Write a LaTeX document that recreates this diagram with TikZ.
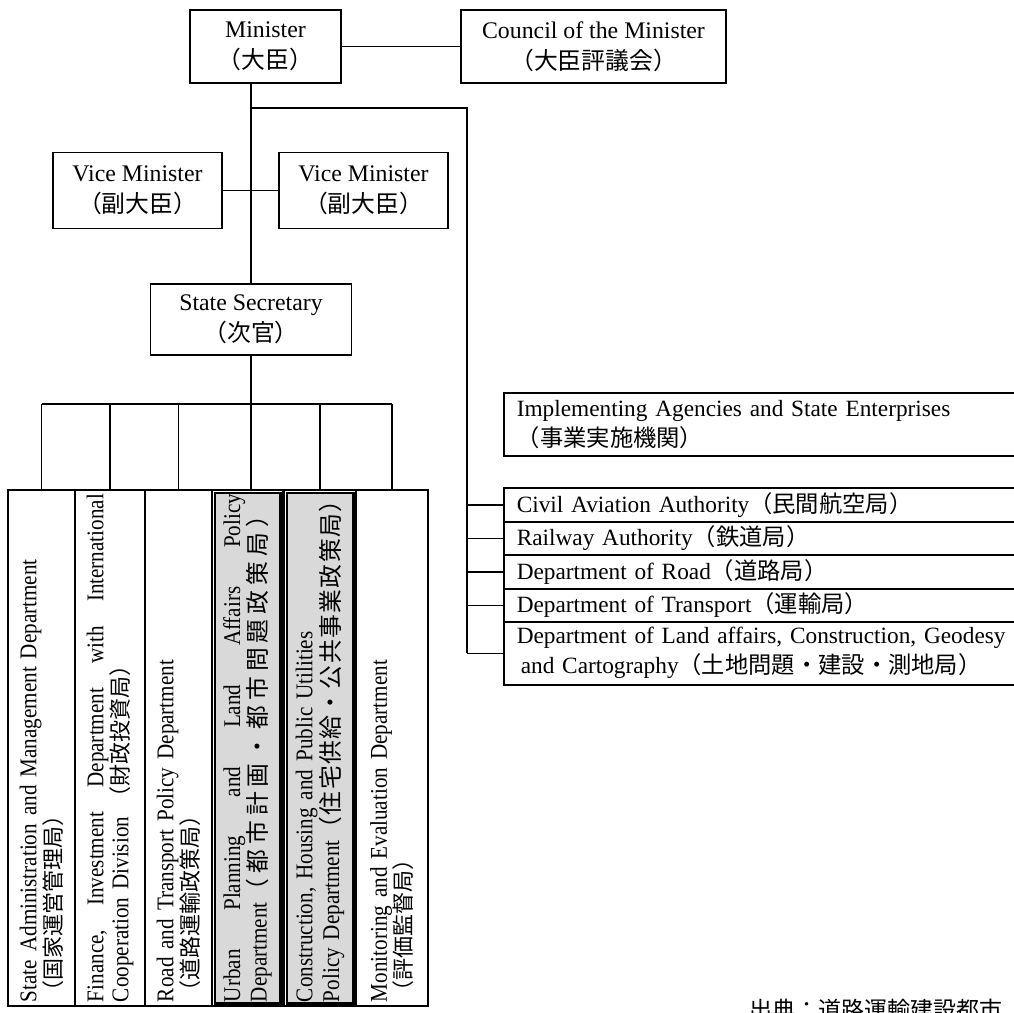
\documentclass[tikz,border=0pt]{standalone}
\usepackage{fontspec}
\setmainfont{Liberation Serif}
\newfontfamily\deptfont[FakeStretch=0.88]{Liberation Serif}
\newfontfamily\jfont{Noto Sans CJK JP}
\newcommand{\ja}[1]{{\jfont #1}}
\newcommand{\jd}[1]{{\fontsize{22}{24}\jfont #1}}
\newcommand{\jw}[2]{{\fontsize{23.8}{24}\jfont\addfontfeature{LetterSpace=#1}#2}}
\newcommand{\spreadline}[1]{\hbox to 508pt{#1}}

\begin{document}
\begin{tikzpicture}[x=1pt,y=-1pt,line width=1.6pt,
  box/.style={draw,inner sep=0pt,align=center,font=\fontsize{23.8}{31}\selectfont},
  listbox/.style={draw,anchor=north west,inner xsep=13pt,inner ysep=0pt,text width=500pt,align=left,font=\fontsize{23.3}{30}\selectfont},
  deptbox/.style={draw,fill=white,inner sep=0pt,minimum height=516pt},
  depttext/.style={rotate=90,inner sep=0pt,text width=508pt,align=left,font=\deptfont\fontsize{24}{25}\selectfont}]
  \path[use as bounding box] (0,0) rectangle (1014,1012);
  \clip (0,0) rectangle (1014,1012);

  % top of the ministry
  \node[box,minimum width=151pt,minimum height=73pt] (min) at (265.5,46.5) {Minister\\\ja{（大臣）}};
  \node[box,minimum width=265pt,minimum height=73pt] (council) at (593.5,46.5) {Council of the Minister\\\ja{（大臣評議会）}};
  \node[box,minimum width=169pt,minimum height=76pt] (vm1) at (137.5,190.5) {Vice Minister\\\ja{（副大臣）}};
  \node[box,minimum width=169pt,minimum height=76pt] (vm2) at (363.5,190.5) {Vice Minister\\\ja{（副大臣）}};
  \node[box,minimum width=201pt,minimum height=71pt] (sec) at (251,319.5) {State Secretary\\\ja{（次官）}};

  % departments
  \foreach \n/\x/\w in {d1/41.5/67,d2/110/70,d3/178.5/67,d4/247.5/71,d5/320/72,d6/392/72}
    \node[deptbox,minimum width=\w pt] (\n) at (\x,748) {};
  \foreach \n in {d4,d5}
    \draw[line width=2.4pt,fill=black!15] ([shift={(3.5,3.5)}]\n.north west) rectangle ([shift={(-3.5,-3.5)}]\n.south east);

  \node[depttext] (t1) at (d1) {State Administration and Management Department\\\jd{（国家運営管理局）}};
  \node[depttext] (t2) at (d2) {\spreadline{Finance,\hfill Investment\hfill Department\hfill with\hfill International}\\Cooperation Division \jd{（財政投資局）}};
  \node[depttext] (t3) at (d3) {Road and Transport Policy Department\\\jd{（道路運輸政策局）}};
  \node[depttext] (t4) at (d4) {\spreadline{Urban\hfill Planning\hfill and\hfill Land\hfill Affairs\hfill Policy}\\\mbox{Department\jw{21}{（都市計画・都市問題政策局）}}};
  \node[depttext] (t5) at (d5) {Construction, Housing and Public Utilities\\\mbox{Policy Department\jw{6}{（住宅供給・公共事業政策局）}}};
  \node[depttext] (t6) at (d6) {Monitoring and Evaluation Department\\\jd{（評価監督局）}};

  % agencies
  \node[listbox,minimum height=63pt] (agency) at (503,392) {Implementing Agencies and State Enterprises\\\ja{（事業実施機関）}};
  \node[listbox,minimum height=34pt] (civil) at (503,487) {Civil Aviation Authority\ja{（民間航空局）}};
  \node[listbox,minimum height=33pt] (rail) at (503,521) {Railway Authority\ja{（鉄道局）}};
  \node[listbox,minimum height=34pt] (road) at (503,554) {Department of Road\ja{（道路局）}};
  \node[listbox,minimum height=33pt] (trans) at (503,588) {Department of Transport\ja{（運輸局）}};
  \node[listbox,minimum height=63pt] (land) at (503,621) {Department of Land affairs, Construction, Geodesy\\\hspace*{4pt}and Cartography\ja{（土地問題・建設・測地局）}};

  \node[anchor=base west,inner sep=0pt,font=\fontsize{23}{24}\selectfont] (src) at (749,1018) {\ja{出典：道路運輸建設都市}};

  % lines
  \coordinate (fork) at (251,108);
  \coordinate (rtop) at (467,108);
  \coordinate (bus) at (0,404);
  \draw (min) -- (council);
  \draw (min.south -| sec) -- (sec);
  \draw (vm1) -- (vm2);
  \draw (fork) -- (rtop) -- (rtop |- land.west);
  \foreach \n in {civil,rail,road,trans,land}
    \draw (rtop |- \n.west) -- (\n.west);
  \draw (d1.north |- bus) -- (d6.north |- bus);
  \draw (sec) -- (sec.south |- d4.north);
  \foreach \n in {d1,d2,d3,d5,d6}
    \draw (\n.north |- bus) -- (\n.north);
\end{tikzpicture}
\end{document}
